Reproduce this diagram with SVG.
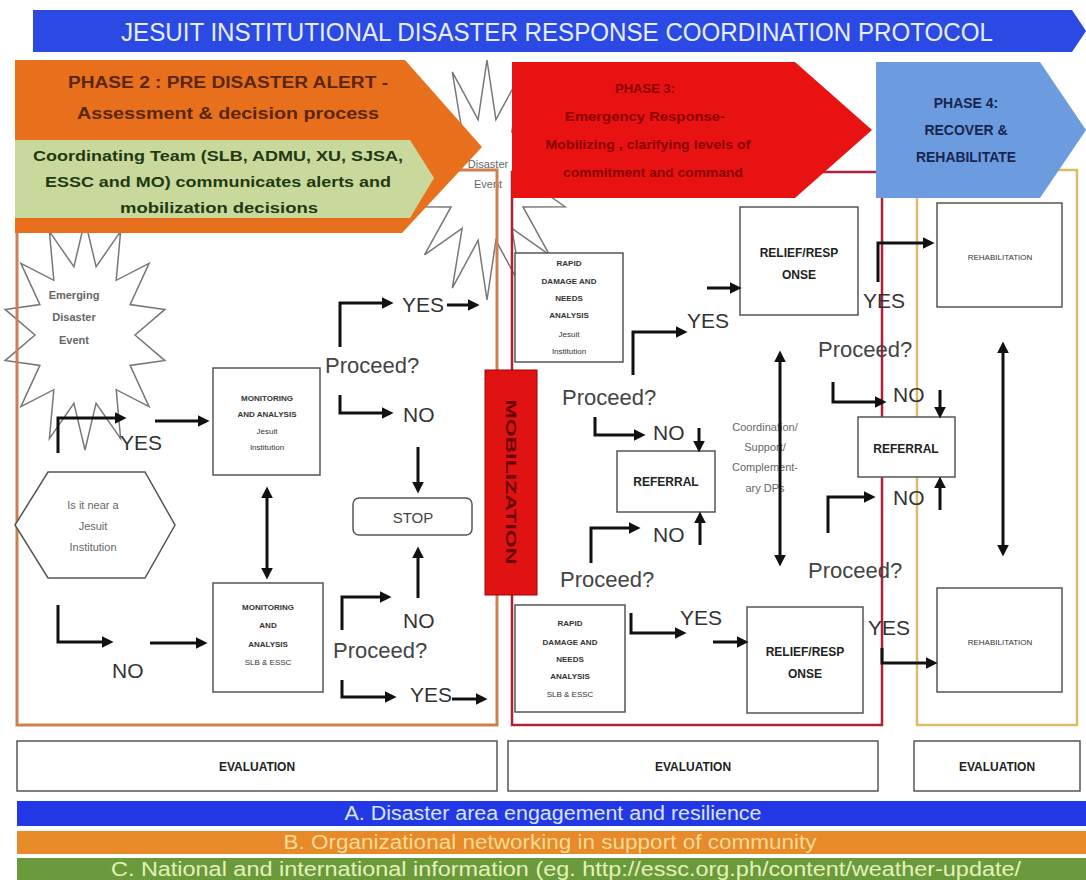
<svg xmlns="http://www.w3.org/2000/svg" width="1086" height="880" viewBox="0 0 1086 880">
<defs>
<marker id="ah" viewBox="0 0 10 10" refX="7" refY="5" markerWidth="4" markerHeight="4" orient="auto-start-reverse" markerUnits="strokeWidth">
<path d="M0,0 L10,5 L0,10 z" fill="#111"/>
</marker>
<style>
.conn{fill:none;stroke:#111;stroke-width:3;marker-end:url(#ah)}
.dbl{fill:none;stroke:#111;stroke-width:3;marker-end:url(#ah);marker-start:url(#ah)}
.box{fill:#fff;stroke:#555;stroke-width:1.5}
.lbl{font-family:"Liberation Sans",Arial,sans-serif;font-size:21px;fill:#333}
.q{font-family:"Liberation Sans",Arial,sans-serif;font-size:22px;fill:#444}
.tiny{font-family:"Liberation Sans",Arial,sans-serif;font-size:8px;font-weight:bold;fill:#333;text-anchor:middle}
.tinyn{font-family:"Liberation Sans",Arial,sans-serif;font-size:8px;fill:#333;text-anchor:middle}
.mid{font-family:"Liberation Sans",Arial,sans-serif;font-size:12px;font-weight:bold;fill:#222;text-anchor:middle}
.gray{font-family:"Liberation Sans",Arial,sans-serif;font-size:11px;fill:#666;text-anchor:middle}
.band{font-family:"Liberation Sans",Arial,sans-serif;font-size:20px;text-anchor:middle}
.ph{font-family:"Liberation Sans",Arial,sans-serif;font-weight:bold;text-anchor:middle}
.star{fill:#fff;stroke:#777;stroke-width:1.5}
</style>
</defs>
<rect width="1086" height="880" fill="#fff"/>

<g id="disaster-event">
<polygon class="star" points="487,60 495.9,119.6 521.7,71.9 511.9,131.5 549.5,105.2 523,153.1 565,153.3 527,180 565,206.7 523,206.9 549.5,254.8 511.9,228.5 521.7,288.1 495.9,240.4 487,300 478.1,240.4 452.3,288.1 462.1,228.5 424.5,254.8 451,206.9 409,206.7 447,180 409,153.3 451,153.1 424.5,105.2 462.1,131.5 452.3,71.9 478.1,119.6"/>
<text class="gray" x="488" y="168" font-size="10">Disaster</text>
<text class="gray" x="488" y="188" font-size="10">Event</text>
</g>

<g id="emerging-disaster-event">
<polygon class="star" points="85,220 96.1,266.8 120.6,231.4 116.2,280.3 149.1,263.3 130.1,304.6 164.9,309.4 135,335 164.9,360.6 130.1,365.4 149.1,406.7 116.2,389.7 120.6,438.6 96.1,403.2 85,450 73.9,403.2 49.4,438.6 53.8,389.7 20.9,406.7 39.9,365.4 5.1,360.6 35,335 5.1,309.4 39.9,304.6 20.9,263.3 53.8,280.3 49.4,231.4 73.9,266.8"/>
<text class="gray" x="74" y="299" font-weight="bold" fill="#555">Emerging</text>
<text class="gray" x="74" y="321" font-weight="bold" fill="#555">Disaster</text>
<text class="gray" x="74" y="344" font-weight="bold" fill="#555">Event</text>
</g>

<g id="frames">
<rect x="17" y="170" width="480" height="555" fill="none" stroke="#cf8050" stroke-width="3"/>
<rect x="512" y="172" width="370" height="553" fill="none" stroke="#b02038" stroke-width="2.5"/>
<rect x="917" y="170" width="160" height="555" fill="none" stroke="#d9bd6a" stroke-width="2.5"/>
</g>

<g id="title">
<polygon points="33,10 1072,10 1086,31 1072,52 33,52" fill="#2b4ae4"/>
<text x="557" y="41" font-family="'Liberation Sans',Arial,sans-serif" font-size="26" fill="#e8eeff" text-anchor="middle" textLength="872" lengthAdjust="spacingAndGlyphs">JESUIT INSTITUTIONAL DISASTER RESPONSE COORDINATION PROTOCOL</text>
</g>

<g id="phase2">
<polygon points="15,60 405,60 482,147 402,233 15,233" fill="#e8701c"/>
<text class="ph" x="228" y="88" font-size="16" fill="#5a2608" textLength="320" lengthAdjust="spacingAndGlyphs">PHASE 2 : PRE DISASTER ALERT  -</text>
<text class="ph" x="228" y="119" font-size="16" fill="#5a2608" textLength="302" lengthAdjust="spacingAndGlyphs">Assessment &amp; decision process</text>
</g>

<g id="coordinating-team">
<polygon points="15,140 410,140 434,178 410,218 15,218" fill="#c9d99c"/>
<text class="ph" x="218" y="161" font-size="14" fill="#1f3a12" textLength="370" lengthAdjust="spacingAndGlyphs">Coordinating Team (SLB, ADMU, XU, SJSA,</text>
<text class="ph" x="218" y="187" font-size="14" fill="#1f3a12" textLength="346" lengthAdjust="spacingAndGlyphs">ESSC and MO) communicates alerts and</text>
<text class="ph" x="219" y="213" font-size="14" fill="#1f3a12" textLength="198" lengthAdjust="spacingAndGlyphs">mobilization decisions</text>
</g>

<g id="phase3">
<polygon points="512,62 795,62 872,130 795,198 512,198" fill="#e81212"/>
<text class="ph" x="645" y="93" font-size="13" fill="#8a0000">PHASE 3:</text>
<text class="ph" x="645" y="121" font-size="13" fill="#8a0000" textLength="160" lengthAdjust="spacingAndGlyphs">Emergency Response-</text>
<text class="ph" x="648" y="149" font-size="13" fill="#8a0000" textLength="205" lengthAdjust="spacingAndGlyphs">Mobilizing , clarifying levels of</text>
<text class="ph" x="653" y="177" font-size="13" fill="#8a0000" textLength="180" lengthAdjust="spacingAndGlyphs">commitment and command</text>
</g>

<g id="phase4">
<polygon points="876,62 1040,62 1086,130 1040,198 876,198" fill="#6d9be0"/>
<text class="ph" x="966" y="108" font-size="14" fill="#18264e">PHASE 4:</text>
<text class="ph" x="966" y="135" font-size="14" fill="#18264e">RECOVER &amp;</text>
<text class="ph" x="966" y="162" font-size="14" fill="#18264e" textLength="100" lengthAdjust="spacingAndGlyphs">REHABILITATE</text>
</g>

<g id="near-jesuit">
<polygon class="box" points="15,525 48,472 145,472 175,525 145,578 48,578" stroke="#777"/>
<text class="gray" x="93" y="509" fill="#555">Is it near a</text>
<text class="gray" x="93" y="530" fill="#555">Jesuit</text>
<text class="gray" x="93" y="551" fill="#555">Institution</text>
</g>

<g id="monitoring-jesuit">
<rect class="box" x="213" y="368" width="107" height="107"/>
<text class="tiny" x="267" y="401">MONITORING</text>
<text class="tiny" x="267" y="417">AND ANALYSIS</text>
<text class="tinyn" x="267" y="434">Jesuit</text>
<text class="tinyn" x="267" y="450">Institution</text>
</g>

<g id="monitoring-slb">
<rect class="box" x="213" y="583" width="110" height="109"/>
<text class="tiny" x="268" y="610">MONITORING</text>
<text class="tiny" x="268" y="628">AND</text>
<text class="tiny" x="268" y="647">ANALYSIS</text>
<text class="tinyn" x="268" y="665">SLB &amp; ESSC</text>
</g>

<g id="stop">
<rect class="box" x="353" y="498" width="119" height="37" rx="6" stroke="#777"/>
<text x="413" y="523" font-family="'Liberation Sans',Arial,sans-serif" font-size="15" fill="#444" text-anchor="middle">STOP</text>
</g>

<g id="mobilization">
<rect x="485" y="370" width="52" height="225" fill="#e01212" stroke="#a00000" stroke-width="1"/>
<text x="511" y="482" transform="rotate(90 511 482)" dy="5" font-family="'Liberation Sans',Arial,sans-serif" font-size="14" font-weight="bold" fill="#6a0000" text-anchor="middle" textLength="165" lengthAdjust="spacingAndGlyphs">MOBILIZATION</text>
</g>

<g id="rapid-jesuit">
<rect class="box" x="515" y="253" width="108" height="109"/>
<text class="tiny" x="569" y="266">RAPID</text>
<text class="tiny" x="569" y="284">DAMAGE AND</text>
<text class="tiny" x="569" y="301">NEEDS</text>
<text class="tiny" x="569" y="318">ANALYSIS</text>
<text class="tinyn" x="569" y="337">Jesuit</text>
<text class="tinyn" x="569" y="354">Institution</text>
</g>

<g id="rapid-slb">
<rect class="box" x="515" y="605" width="110" height="107"/>
<text class="tiny" x="570" y="626">RAPID</text>
<text class="tiny" x="570" y="645">DAMAGE AND</text>
<text class="tiny" x="570" y="662">NEEDS</text>
<text class="tiny" x="570" y="679">ANALYSIS</text>
<text class="tinyn" x="570" y="697">SLB &amp; ESSC</text>
</g>

<g id="relief-top">
<rect class="box" x="740" y="207" width="118" height="108"/>
<text class="mid" x="799" y="257">RELIEF/RESP</text>
<text class="mid" x="799" y="279">ONSE</text>
</g>

<g id="relief-bottom">
<rect class="box" x="747" y="607" width="116" height="106"/>
<text class="mid" x="805" y="656">RELIEF/RESP</text>
<text class="mid" x="805" y="678">ONSE</text>
</g>

<g id="referral-3">
<rect class="box" x="617" y="451" width="98" height="61"/>
<text class="mid" x="666" y="486">REFERRAL</text>
</g>

<g id="referral-4">
<rect class="box" x="858" y="417" width="97" height="60"/>
<text class="mid" x="906" y="453" font-size="11">REFERRAL</text>
</g>

<g id="coordination">
<text class="gray" x="765" y="431">Coordination/</text>
<text class="gray" x="765" y="451">Support/</text>
<text class="gray" x="765" y="471">Complement-</text>
<text class="gray" x="765" y="492">ary DPs</text>
</g>

<g id="rehab-top">
<rect class="box" x="937" y="203" width="125" height="104" stroke="#777"/>
<text class="tinyn" x="1000" y="260" fill="#666">REHABILITATION</text>
</g>

<g id="rehab-bottom">
<rect class="box" x="937" y="588" width="125" height="104" stroke="#777"/>
<text class="tinyn" x="1000" y="645" fill="#666">REHABILITATION</text>
</g>

<g id="labels">
<text class="lbl" x="120" y="450">YES</text>
<text class="lbl" x="112" y="678">NO</text>
<text class="q" x="325" y="373">Proceed?</text>
<text class="lbl" x="402" y="312">YES</text>
<text class="lbl" x="403" y="422">NO</text>
<text class="lbl" x="403" y="628">NO</text>
<text class="q" x="333" y="658">Proceed?</text>
<text class="lbl" x="410" y="702">YES</text>
<text class="lbl" x="687" y="328">YES</text>
<text class="q" x="562" y="405">Proceed?</text>
<text class="lbl" x="653" y="440">NO</text>
<text class="lbl" x="653" y="542">NO</text>
<text class="q" x="560" y="587">Proceed?</text>
<text class="lbl" x="680" y="625">YES</text>
<text class="lbl" x="863" y="308">YES</text>
<text class="q" x="818" y="357">Proceed?</text>
<text class="lbl" x="893" y="402">NO</text>
<text class="lbl" x="893" y="505">NO</text>
<text class="q" x="808" y="578">Proceed?</text>
<text class="lbl" x="868" y="635">YES</text>
</g>

<g id="connectors">
<path class="conn" d="M58,453 V418 H123"/>
<path class="conn" d="M155,421 H206"/>
<path class="conn" d="M58,605 V642 H110"/>
<path class="conn" d="M150,643 H204"/>
<path class="dbl" d="M267,490 V576"/>
<path class="conn" d="M340,347 V303 H390"/>
<path class="conn" d="M447,305 H476"/>
<path class="conn" d="M340,395 V413 H390"/>
<path class="conn" d="M418,447 V490"/>
<path class="conn" d="M418,598 V550"/>
<path class="conn" d="M342,630 V597 H388"/>
<path class="conn" d="M342,680 V697 H393"/>
<path class="conn" d="M452,699 H484"/>
<path class="conn" d="M633,375 V332 H684"/>
<path class="conn" d="M707,288 H738"/>
<path class="conn" d="M595,417 V435 H642"/>
<path class="conn" d="M699,428 V449"/>
<path class="conn" d="M700,545 V515"/>
<path class="conn" d="M591,563 V528 H637"/>
<path class="conn" d="M631,613 V633 H683"/>
<path class="conn" d="M713,642 H745"/>
<path class="dbl" d="M780,354 V563"/>
<path class="conn" d="M878,282 V243 H931"/>
<path class="conn" d="M833,382 V402 H883"/>
<path class="conn" d="M940,390 V415"/>
<path class="conn" d="M940,510 V480"/>
<path class="conn" d="M828,533 V497 H872"/>
<path class="conn" d="M882,648 V663 H934"/>
<path class="dbl" d="M1003,345 V553"/>
</g>

<g id="evaluation">
<rect class="box" x="17" y="741" width="480" height="50" stroke="#666"/>
<text class="mid" x="257" y="771" font-size="12">EVALUATION</text>
<rect class="box" x="508" y="741" width="370" height="50" stroke="#666"/>
<text class="mid" x="693" y="771" font-size="12">EVALUATION</text>
<rect class="box" x="914" y="741" width="166" height="50" stroke="#666"/>
<text class="mid" x="997" y="771" font-size="12">EVALUATION</text>
</g>

<g id="bands">
<rect x="17" y="801" width="1069" height="25" fill="#2238e6"/>
<text class="band" x="553" y="820" fill="#d8e4ff" textLength="417" lengthAdjust="spacingAndGlyphs">A. Disaster area engagement and resilience</text>
<rect x="17" y="831" width="1069" height="23" fill="#e8892a"/>
<text class="band" x="550" y="849" fill="#f4dc96" textLength="533" lengthAdjust="spacingAndGlyphs">B. Organizational networking in support of community</text>
<rect x="17" y="858" width="1069" height="22" fill="#6b9a3c"/>
<text class="band" x="566" y="876" fill="#e4f2b8" textLength="910" lengthAdjust="spacingAndGlyphs">C. National and international  information (eg. http://essc.org.ph/content/weather-update/</text>
</g>
</svg>
